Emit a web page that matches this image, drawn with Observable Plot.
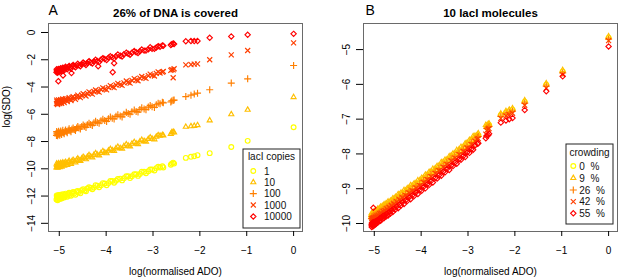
<!DOCTYPE html>
<html><head><meta charset="utf-8">
<script src="https://cdn.jsdelivr.net/npm/d3@7"></script>
<script src="https://cdn.jsdelivr.net/npm/@observablehq/plot@0.6"></script>
<style>
body{margin:0;background:#fff;}
#wrap{display:flex;width:630px;height:280px;}
svg text{font-family:"Liberation Sans",Arial,Helvetica,sans-serif;}
</style></head><body><div id="wrap"></div>
<script>
// x values: log(normalised ADO)
const ado = [-5.06,-5.05,-5.04,-5.03,-5.02,-5.01,-5.0,-4.98,-4.96,-4.94,
  -4.91,-4.88,-4.85,-4.81,-4.77,-4.73,-4.68,-4.63,-4.58,-4.52,
  -4.46,-4.4,-4.33,-4.26,-4.19,-4.11,-4.03,-3.95,-3.87,-3.79,
  -3.7,-3.62,-3.53,-3.45,-3.36,-3.28,-3.19,-3.1,-3.02,-2.93,
  -2.85,-2.8,-2.78,-2.6,-2.57,-2.55,-2.3,-2.19,-2.12,-2.05,
  -1.79,-1.33,-0.98,0];
// second set of x values inside the dense cloud
const ado2 = [-5.055,-5.035,-5.015,-4.99,-4.97,-4.95,-4.925,-4.895,-4.865,-4.83,
  -4.79,-4.75,-4.705,-4.655,-4.605,-4.55,-4.49,-4.43,-4.365,-4.295,
  -4.225,-4.15,-4.07,-3.99,-3.91,-3.83,-3.75,-3.66,-3.57,-3.49,
  -3.4,-3.32,-3.24,-3.15,-3.06,-2.97,-2.89,-2.62];

// Panel A: log(SDO) by lacI copies (26% of DNA covered)
const copiesLabels = ["1","10","100","1000","10000"];
const sdoA1 = [-12.25,-12.05,-12.2,-11.98,-12.15,-12.02,-12.12,-11.95,-12.1,-11.96,
  -12.05,-11.9,-11.98,-11.85,-11.9,-11.78,-11.8,-11.66,-11.7,-11.58,
  -11.6,-11.45,-11.4,-11.38,-11.24,-11.2,-11.08,-11.05,-10.9,-10.88,
  -10.72,-10.7,-10.55,-10.55,-10.4,-10.38,-10.22,-10.18,-10.05,-9.95,
  -9.9,-9.82,-9.9,-9.62,-9.55,-9.62,-9.2,-9.12,-9.08,-9.0,
  -8.85,-8.4,-7.95,-6.95];
const sdoA1b = [-11.95,-12.3,-11.92,-12.22,-11.9,-12.18,-11.86,-12.1,-11.82,-12.05,
  -11.76,-11.98,-11.7,-11.9,-11.62,-11.8,-11.5,-11.65,-11.36,-11.5,
  -11.2,-11.35,-11.05,-11.2,-10.9,-11.02,-10.75,-10.85,-10.55,-10.68,
  -10.4,-10.52,-10.22,-10.33,-10.05,-10.12,-9.85,-9.7];
const sdoA10 = [-9.9,-9.72,-9.85,-9.7,-9.82,-9.68,-9.78,-9.66,-9.76,-9.64,
  -9.7,-9.58,-9.63,-9.52,-9.55,-9.45,-9.46,-9.35,-9.36,-9.24,
  -9.23,-9.12,-9.1,-8.98,-8.96,-8.84,-8.8,-8.67,-8.64,-8.5,
  -8.48,-8.34,-8.3,-8.16,-8.14,-8.0,-7.96,-7.82,-7.8,-7.65,
  -7.58,-7.52,-7.56,-7.33,-7.28,-7.34,-6.92,-6.88,-6.85,-6.8,
  -6.45,-6.0,-5.67,-4.74];
const sdoA10b = [-9.62,-9.92,-9.6,-9.88,-9.57,-9.84,-9.54,-9.78,-9.5,-9.72,
  -9.42,-9.64,-9.35,-9.54,-9.25,-9.43,-9.13,-9.3,-9.0,-9.17,
  -8.86,-9.02,-8.71,-8.86,-8.55,-8.7,-8.39,-8.53,-8.21,-8.36,
  -8.04,-8.19,-7.88,-8.02,-7.7,-7.84,-7.54,-7.45];
const sdoA100 = [-7.55,-7.38,-7.5,-7.36,-7.47,-7.34,-7.44,-7.32,-7.4,-7.3,
  -7.35,-7.24,-7.28,-7.17,-7.2,-7.1,-7.11,-7.0,-7.01,-6.89,
  -6.88,-6.77,-6.75,-6.63,-6.61,-6.48,-6.45,-6.32,-6.29,-6.15,
  -6.13,-5.99,-5.95,-5.81,-5.79,-5.65,-5.61,-5.47,-5.45,-5.3,
  -5.23,-5.12,-5.16,-5.02,-4.98,-4.96,-4.7,-4.6,-4.52,-4.45,
  -4.2,-3.71,-3.4,-2.42];
const sdoA100b = [-7.27,-7.58,-7.24,-7.53,-7.22,-7.48,-7.18,-7.43,-7.15,-7.36,
  -7.07,-7.29,-7.0,-7.18,-6.9,-7.08,-6.78,-6.96,-6.65,-6.82,
  -6.51,-6.66,-6.36,-6.52,-6.2,-6.34,-6.04,-6.19,-5.86,-6.0,
  -5.69,-5.84,-5.53,-5.66,-5.35,-5.5,-5.19,-5.1];
const sdoA1000 = [-5.22,-5.08,-5.19,-5.05,-5.16,-5.04,-5.13,-5.02,-5.1,-4.99,
  -5.05,-4.94,-4.98,-4.87,-4.9,-4.79,-4.81,-4.7,-4.71,-4.59,
  -4.58,-4.47,-4.45,-4.33,-4.31,-4.18,-4.15,-4.02,-3.99,-3.85,
  -3.83,-3.69,-3.65,-3.51,-3.49,-3.35,-3.31,-3.17,-3.14,-3.0,
  -2.97,-2.91,-2.86,-2.72,-2.74,-2.66,-2.38,-2.35,-2.32,-2.3,
  -2.0,-1.64,-1.32,-0.76];
const sdoA1000b = [-4.96,-5.28,-4.95,-5.22,-4.93,-5.19,-4.88,-5.14,-4.86,-5.06,
  -4.78,-4.99,-4.7,-4.9,-4.6,-4.78,-4.49,-4.66,-4.36,-4.52,
  -4.22,-4.37,-4.07,-4.21,-3.9,-4.05,-3.74,-3.88,-3.56,-3.71,
  -3.39,-3.54,-3.23,-3.37,-3.05,-3.19,-2.89,-2.78];
const sdoA10000 = [-2.92,-2.78,-2.88,-2.74,-2.85,-2.72,-2.8,-2.7,-2.76,-2.66,
  -2.7,-2.6,-2.63,-2.55,-2.56,-2.48,-2.47,-2.4,-2.41,-2.32,
  -2.3,-2.24,-2.2,-2.12,-2.09,-1.99,-1.95,-1.86,-1.82,-1.74,
  -1.7,-1.6,-1.56,-1.48,-1.45,-1.37,-1.33,-1.24,-1.2,-1.1,
  -1.05,-0.95,-0.98,-0.86,-0.8,-0.84,-0.64,-0.62,-0.63,-0.62,
  -0.39,-0.29,-0.17,-0.1];
const sdoA10000b = [-2.7,-2.95,-2.68,-2.88,-2.62,-2.84,-2.58,-2.78,-2.52,-2.7,
  -2.45,-2.64,-2.38,-2.56,-2.3,-2.47,-2.2,-2.38,-2.1,-2.27,
  -2.0,-2.16,-1.88,-2.02,-1.74,-1.9,-1.62,-1.76,-1.48,-1.63,
  -1.36,-1.5,-1.25,-1.33,-1.08,-1.2,-1.0,-0.92];
// scattered extra points in panel A
const extraA1000x = [-2.57];
const extraA1000y = [-3.32];
const extraA10000x = [-5.02,-4.92,-4.74,-4.17,-3.83,-3.86];
const extraA10000y = [-3.57,-3.15,-2.98,-2.47,-2.25,-2.91];

// Panel B: log(SDO) by crowding (10 lacI molecules)
const crowdingLabels = ["0  %","9  %","26  %","42  %","55  %"];
const sdoB0 = [-9.8,-9.78,-9.8,-9.76,-9.77,-9.74,-9.75,-9.72,-9.72,-9.68,
  -9.66,-9.63,-9.6,-9.55,-9.53,-9.48,-9.44,-9.4,-9.33,-9.28,
  -9.22,-9.17,-9.09,-9.02,-8.96,-8.88,-8.81,-8.72,-8.64,-8.55,
  -8.47,-8.38,-8.28,-8.2,-8.1,-8.02,-7.92,-7.83,-7.73,-7.63,
  -7.53,-7.48,-7.46,-7.23,-7.19,-7.17,-6.88,-6.81,-6.77,-6.73,
  -6.5,-6.01,-5.63,-4.66];
const sdoB9 = [-9.76,-9.72,-9.77,-9.7,-9.74,-9.68,-9.71,-9.67,-9.68,-9.63,
  -9.62,-9.58,-9.56,-9.5,-9.49,-9.43,-9.4,-9.35,-9.29,-9.24,
  -9.17,-9.12,-9.05,-8.98,-8.91,-8.84,-8.76,-8.68,-8.59,-8.51,
  -8.41,-8.34,-8.23,-8.16,-8.05,-7.98,-7.87,-7.79,-7.68,-7.59,
  -7.48,-7.44,-7.41,-7.19,-7.14,-7.13,-6.84,-6.77,-6.73,-6.69,
  -6.46,-5.97,-5.59,-4.62];
const sdoB9b = [-9.7,-9.72,-9.67,-9.66,-9.62,-9.63,-9.58,-9.57,-9.52,-9.5,
  -9.45,-9.43,-9.37,-9.35,-9.28,-9.24,-9.16,-9.12,-9.04,-8.99,
  -8.9,-8.85,-8.76,-8.69,-8.6,-8.52,-8.43,-8.35,-8.24,-8.17,
  -8.07,-7.99,-7.89,-7.8,-7.7,-7.6,-7.49,-7.17];
const sdoB26 = [-9.86,-9.8,-9.83,-9.79,-9.8,-9.77,-9.79,-9.75,-9.76,-9.71,
  -9.7,-9.66,-9.64,-9.59,-9.57,-9.52,-9.48,-9.43,-9.38,-9.32,
  -9.26,-9.2,-9.14,-9.06,-9.0,-8.92,-8.85,-8.76,-8.68,-8.59,
  -8.5,-8.42,-8.32,-8.24,-8.14,-8.06,-7.96,-7.87,-7.77,-7.67,
  -7.57,-7.52,-7.5,-7.27,-7.23,-7.21,-6.92,-6.85,-6.81,-6.77,
  -6.54,-6.05,-5.67,-4.7];
const sdoB42 = [-9.92,-9.86,-9.9,-9.85,-9.87,-9.83,-9.85,-9.82,-9.81,-9.78,
  -9.76,-9.72,-9.7,-9.65,-9.63,-9.58,-9.54,-9.49,-9.44,-9.38,
  -9.32,-9.26,-9.2,-9.12,-9.06,-8.98,-8.91,-8.82,-8.74,-8.65,
  -8.56,-8.48,-8.38,-8.3,-8.2,-8.12,-8.02,-7.93,-7.83,-7.73,
  -7.63,-7.58,-7.56,-7.33,-7.29,-7.27,-6.98,-6.91,-6.87,-6.83,
  -6.6,-6.11,-5.72,-4.74];
const sdoB42b = [-9.96,-9.97,-9.92,-9.92,-9.88,-9.87,-9.84,-9.8,-9.79,-9.74,
  -9.71,-9.67,-9.63,-9.58,-9.54,-9.47,-9.42,-9.35,-9.3,-9.22,
  -9.16,-9.08,-9.02,-8.93,-8.85,-8.77,-8.68,-8.59,-8.5,-8.4,
  -8.32,-8.23,-8.14,-8.05,-7.95,-7.85,-7.74,-7.43];
const sdoB55 = [-10.04,-9.99,-10.03,-9.97,-10.0,-9.96,-9.98,-9.94,-9.94,-9.91,
  -9.89,-9.85,-9.83,-9.78,-9.76,-9.71,-9.67,-9.62,-9.57,-9.51,
  -9.45,-9.39,-9.33,-9.25,-9.19,-9.11,-9.04,-8.95,-8.87,-8.78,
  -8.69,-8.61,-8.51,-8.43,-8.33,-8.25,-8.15,-8.06,-7.96,-7.86,
  -7.76,-7.71,-7.69,-7.48,-7.46,-7.42,-7.1,-7.04,-7.0,-6.97,
  -6.74,-6.2,-5.77,-4.91];
const sdoB55b = [-10.1,-10.08,-10.07,-10.03,-10.02,-9.99,-9.97,-9.93,-9.92,-9.87,
  -9.84,-9.8,-9.77,-9.71,-9.67,-9.6,-9.56,-9.48,-9.44,-9.35,
  -9.3,-9.21,-9.15,-9.06,-8.99,-8.89,-8.82,-8.71,-8.63,-8.53,
  -8.46,-8.35,-8.28,-8.17,-8.09,-7.97,-7.88,-7.55];
const extraB55x = [-5.02];
const extraB55y = [-9.55];

const xTicks = [-5,-4,-3,-2,-1,0];
const yTicksA = [-14,-12,-10,-8,-6,-4,-2,0];
const yTicksB = [-10,-9,-8,-7,-6,-5];

// styles
const colors = ["#FFFF00","#FFBF00","#FF7F00","#FF3F00","#FF0000"];
const symbolNames = ["circle","triangle2","plus","times","diamond2"];
const d3Symbols = [d3.symbolCircle, d3.symbolTriangle2, d3.symbolPlus, d3.symbolTimes, d3.symbolDiamond2];
const R = 2.4;
const SW = 1.15;
const fmt = d3.format("d");

function rows(xs, ys) { return xs.map((x, i) => ({x, y: ys[i]})); }

function panel(cfg) {
  const marks = [
    Plot.frame({stroke: "#6a6a6a"}),
    Plot.axisX({ticks: xTicks, tickFormat: fmt, tickSize: 5, tickPadding: 10, label: null, fontSize: 10}),
    Plot.axisY({ticks: cfg.yTicks, tickFormat: fmt, tickSize: 7, tickPadding: 7, tickRotate: -90, label: null, fontSize: 10})
  ];
  cfg.series.forEach((ys, i) => {
    const sets = [[ado, ys]].concat(cfg.extras[i] || []);
    sets.forEach(([xs, vs]) => {
      marks.push(Plot.dot(rows(xs, vs), {x: "x", y: "y", symbol: symbolNames[i], stroke: colors[i], fill: "none", r: R, strokeWidth: SW}));
    });
  });
  marks.push(
    Plot.text([cfg.title], {text: d => d, frameAnchor: "top", dy: -14.7, fontWeight: "bold", fontSize: 11.5}),
    Plot.text([cfg.letter], {text: d => d, frameAnchor: "top-left", textAnchor: "start", dy: -18, dx: cfg.letterDx, fontSize: 14}),
    Plot.text(["log(normalised ADO)"], {text: d => d, frameAnchor: "bottom", dy: 43.5, fontSize: 10}),
  );
  if (cfg.ylabel) marks.push(Plot.text([cfg.ylabel], {text: d => d, frameAnchor: "left", dx: -42, rotate: -90, fontSize: 10}));
  const svg = Plot.plot({
    width: 315, height: 280,
    marginLeft: 48, marginRight: 13, marginTop: 23, marginBottom: 49,
    style: {fontFamily: "Liberation Sans, Arial, Helvetica, sans-serif", fontSize: "10px", background: "white", overflow: "visible"},
    x: {domain: [-5.23, 0.19]},
    y: {domain: cfg.yDomain},
    marks
  });
  // legend
  const L = cfg.legend;
  const g = d3.select(svg).append("g").attr("font-size", 10).attr("text-anchor", "start")
    .attr("font-family", "Liberation Sans, Arial, Helvetica, sans-serif");
  g.append("rect").attr("x", L.x0).attr("y", L.y0).attr("width", L.x1 - L.x0).attr("height", L.y1 - L.y0)
    .attr("fill", "white").attr("stroke", "#222").attr("stroke-width", 1);
  g.append("text").attr("x", (L.x0 + L.x1) / 2).attr("y", L.titleY).attr("dy", "0.35em")
    .attr("text-anchor", "middle").attr("fill", "#111").text(L.title);
  L.labels.forEach((lab, i) => {
    const y = L.rows[i];
    g.append("path").attr("transform", `translate(${L.symX},${y})`)
      .attr("d", d3.symbol(d3Symbols[i], Math.PI * R * R)())
      .attr("fill", "none").attr("stroke", colors[i]).attr("stroke-width", SW);
    g.append("text").attr("x", L.textX).attr("y", y).attr("dy", "0.35em").attr("text-anchor", "start")
      .attr("fill", "#111").text(lab.replace(/ /g, "\u00A0"));
  });
  return svg;
}

const wrap = document.getElementById("wrap");
wrap.appendChild(panel({
  title: "26% of DNA is covered", letter: "A", letterDx: 0, ylabel: "log(SDO)",
  yDomain: [-14.6, 0.66], yTicks: yTicksA,
  series: [sdoA1, sdoA10, sdoA100, sdoA1000, sdoA10000],
  extras: {0: [[ado2, sdoA1b]], 1: [[ado2, sdoA10b]], 2: [[ado2, sdoA100b]],
    3: [[ado2, sdoA1000b], [extraA1000x, extraA1000y]], 4: [[ado2, sdoA10000b], [extraA10000x, extraA10000y]]},
  legend: {x0: 243, x1: 300, y0: 149, y1: 228, title: "lacI copies", titleY: 156, symX: 253.3, textX: 264,
    rows: [171, 182.3, 193.6, 205, 216.5], labels: copiesLabels}
}));
wrap.appendChild(panel({
  title: "10 lacI molecules", letter: "B", letterDx: 2, ylabel: null,
  yDomain: [-10.23, -4.25], yTicks: yTicksB,
  series: [sdoB0, sdoB9, sdoB26, sdoB42, sdoB55],
  extras: {1: [[ado2, sdoB9b]], 3: [[ado2, sdoB42b]], 4: [[ado2, sdoB55b], [extraB55x, extraB55y]]},
  legend: {x0: 251, x1: 298, y0: 144, y1: 224, title: "crowding", titleY: 152.5, symX: 258.3, textX: 264.3,
    rows: [166, 178, 190, 201.7, 213.3], labels: crowdingLabels}
}));
</script></body></html>
